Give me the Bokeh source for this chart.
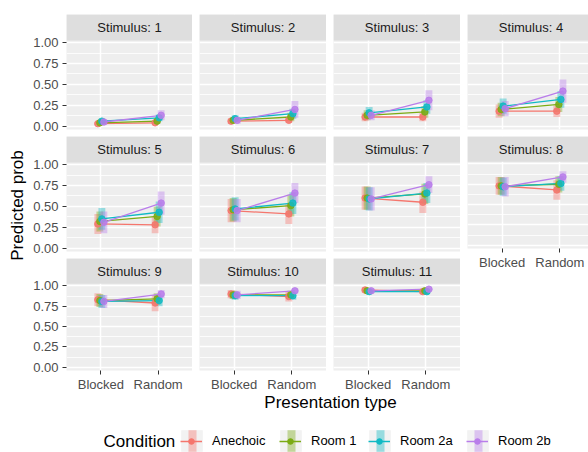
from math import pi
from bokeh.plotting import figure
from bokeh.models import (ColumnDataSource, FixedTicker, LinearAxis, Range1d,
                          BoxAnnotation, Label, Legend, LegendItem)
from bokeh.layouts import row, column
from bokeh.embed import file_html
from bokeh.resources import INLINE
from bokeh.core.properties import value

# ---------------- data ----------------
stimuli = [1, 2, 3, 4, 5, 6, 7, 8, 9, 10, 11]
presentation = ["Blocked", "Random"]
conditions = ["Anechoic", "Room 1", "Room 2a", "Room 2b"]
colors = ["#F5766D", "#7BAB14", "#10BAC4", "#B97DEA"]
y_ticks = [0.0, 0.25, 0.5, 0.75, 1.0]
y_tick_labels = ["0.00", "0.25", "0.50", "0.75", "1.00"]
y_minor = [0.125, 0.375, 0.625, 0.875]

anechoic_blocked = [0.03, 0.06, 0.11, 0.18, 0.29, 0.45, 0.60, 0.73, 0.83, 0.90, 0.95]
anechoic_random = [0.04, 0.07, 0.11, 0.18, 0.28, 0.41, 0.55, 0.68, 0.79, 0.87, 0.93]
room1_blocked = [0.04, 0.07, 0.13, 0.20, 0.32, 0.46, 0.60, 0.73, 0.82, 0.89, 0.94]
room1_random = [0.06, 0.11, 0.17, 0.26, 0.38, 0.51, 0.65, 0.75, 0.84, 0.89, 0.94]
room2a_blocked = [0.06, 0.09, 0.16, 0.24, 0.35, 0.47, 0.59, 0.72, 0.81, 0.88, 0.93]
room2a_random = [0.10, 0.15, 0.23, 0.32, 0.43, 0.54, 0.66, 0.76, 0.82, 0.88, 0.93]
room2b_blocked = [0.05, 0.07, 0.13, 0.21, 0.31, 0.45, 0.59, 0.72, 0.81, 0.89, 0.94]
room2b_random = [0.13, 0.20, 0.31, 0.42, 0.54, 0.66, 0.76, 0.84, 0.90, 0.94, 0.96]

# half-widths of the interval bars
anechoic_blocked_ci = [0.02, 0.03, 0.05, 0.08, 0.12, 0.14, 0.14, 0.11, 0.08, 0.05, 0.03]
anechoic_random_ci = [0.02, 0.03, 0.05, 0.07, 0.10, 0.12, 0.13, 0.12, 0.10, 0.06, 0.03]
room1_blocked_ci = [0.02, 0.03, 0.06, 0.08, 0.12, 0.14, 0.14, 0.11, 0.08, 0.05, 0.03]
room1_random_ci = [0.03, 0.05, 0.07, 0.09, 0.12, 0.13, 0.12, 0.10, 0.07, 0.05, 0.03]
room2a_blocked_ci = [0.03, 0.04, 0.07, 0.09, 0.13, 0.14, 0.14, 0.11, 0.08, 0.05, 0.03]
room2a_random_ci = [0.04, 0.06, 0.08, 0.10, 0.13, 0.13, 0.12, 0.09, 0.07, 0.05, 0.03]
room2b_blocked_ci = [0.03, 0.04, 0.06, 0.09, 0.13, 0.14, 0.14, 0.12, 0.08, 0.05, 0.03]
room2b_random_ci = [0.06, 0.10, 0.12, 0.14, 0.14, 0.12, 0.10, 0.07, 0.05, 0.03, 0.02]

means = {
    "Anechoic": (anechoic_blocked, anechoic_random),
    "Room 1": (room1_blocked, room1_random),
    "Room 2a": (room2a_blocked, room2a_random),
    "Room 2b": (room2b_blocked, room2b_random),
}
cis = {
    "Anechoic": (anechoic_blocked_ci, anechoic_random_ci),
    "Room 1": (room1_blocked_ci, room1_random_ci),
    "Room 2a": (room2a_blocked_ci, room2a_random_ci),
    "Room 2b": (room2b_blocked_ci, room2b_random_ci),
}

# ---------------- styling / layout constants ----------------
FONT = "Liberation Sans"
PANEL_BG = "#EEEEEE"
STRIP_BG = "#DEDEDE"
FRAME_W = 127
PANEL_H = 89
STRIP_H = 26
FRAME_H = STRIP_H + PANEL_H
GAP = 7
AXIS_H = 21
Y_LO, Y_HI = -0.04, 1.026
units_per_px = (Y_HI - Y_LO) / PANEL_H
Y_TOP = Y_HI + STRIP_H * units_per_px
STRIP_MID = Y_HI + STRIP_H * units_per_px / 2
X_LO, X_HI = 0.4, 2.6
px_per_x = FRAME_W / (X_HI - X_LO)
DODGE = 0.035
BAR_W = 0.12
BAR_ALPHA = 0.4

xticks = [i + 1 for i in range(len(presentation))]
x_overrides = {t: lab for t, lab in zip(xticks, presentation)}
y_overrides = {t: lab for t, lab in zip(y_ticks, y_tick_labels)}


def style_axis(ax):
    ax.axis_line_color = None
    ax.major_tick_out = 4
    ax.major_tick_in = 0
    ax.minor_tick_out = 0
    ax.minor_tick_in = 0
    ax.major_tick_line_color = "#333333"
    ax.major_tick_line_width = 1
    ax.major_label_text_color = "#4D4D4D"
    ax.major_label_text_font = FONT
    ax.major_label_text_font_size = "13px"


def make_panel(k, col, rw, has_x):
    has_y = col == 0
    fw = FRAME_W if col < 3 else 121
    x_end = X_HI if col < 3 else X_LO + fw / px_per_x
    left = 35 if has_y else 7
    top = 14 if rw == 0 else 0
    bottom = AXIS_H if has_x else GAP
    p = figure(width=left + fw, height=top + FRAME_H + bottom,
               x_range=Range1d(X_LO, x_end), y_range=Range1d(Y_LO, Y_TOP),
               x_axis_location=None, y_axis_location=None,
               toolbar_location=None, output_backend="svg",
               min_border_left=left, min_border_right=0,
               min_border_top=top, min_border_bottom=bottom,
               background_fill_color=PANEL_BG, border_fill_color="white",
               outline_line_color=None)
    p.xgrid.ticker = FixedTicker(ticks=xticks)
    p.ygrid.ticker = FixedTicker(ticks=y_ticks, minor_ticks=y_minor)
    p.xgrid.grid_line_color = "white"
    p.ygrid.grid_line_color = "white"
    p.xgrid.grid_line_width = 1.5
    p.ygrid.grid_line_width = 1.5
    p.ygrid.minor_grid_line_color = "white"
    p.ygrid.minor_grid_line_width = 0.8

    sources = []
    for i, cond in enumerate(conditions):
        off = (i - (len(conditions) - 1) / 2) * DODGE
        m = [means[cond][j][k] for j in range(2)]
        h = [cis[cond][j][k] for j in range(2)]
        src = ColumnDataSource(dict(
            x=[xticks[j] + off for j in range(2)],
            y=m,
            lo=[m[j] - h[j] for j in range(2)],
            hi=[m[j] + h[j] for j in range(2)],
        ))
        sources.append(src)
        p.vbar(x="x", bottom="lo", top="hi", width=BAR_W, source=src,
               fill_color=colors[i], fill_alpha=BAR_ALPHA, line_color=None)
    for i, src in enumerate(sources):
        p.line(x="x", y="y", source=src, line_color=colors[i], line_width=1.3)
    for i, src in enumerate(sources):
        p.scatter(x="x", y="y", source=src, size=6.5, marker="circle",
                  fill_color=colors[i], line_color=colors[i], fill_alpha=0.85, line_alpha=0.85)

    # facet strip
    p.add_layout(BoxAnnotation(bottom=Y_HI, fill_color=STRIP_BG, fill_alpha=1.0,
                               line_color=None))
    p.add_layout(Label(x=(X_LO + X_HI) / 2, y=STRIP_MID, text=f"Stimulus: {stimuli[k]}",
                       text_align="center", text_baseline="middle",
                       text_font=FONT, text_font_size="13px", text_color="#1A1A1A"))

    if has_y:
        ay = LinearAxis(ticker=FixedTicker(ticks=y_ticks), major_label_overrides=y_overrides)
        style_axis(ay)
        ay.major_label_standoff = 4
        p.add_layout(ay, "left")
    if has_x:
        ax = LinearAxis(ticker=FixedTicker(ticks=xticks), major_label_overrides=x_overrides)
        style_axis(ax)
        ax.major_label_standoff = 2
        p.add_layout(ax, "below")
    return p


panels = {}
for k in range(len(stimuli)):
    rw, col = divmod(k, 4)
    has_x = (rw == 2) or (k == 7)
    panels[k] = make_panel(k, col, rw, has_x)

cols = []
for c in range(4):
    cols.append(column(*[panels[k] for k in range(len(stimuli)) if k % 4 == c]))

grid_h = (14 + FRAME_H + GAP) + (FRAME_H + GAP) + (FRAME_H + AXIS_H)

# y-axis title
ylab = figure(width=30, height=grid_h, x_range=Range1d(0, 30), y_range=Range1d(0, grid_h),
              x_axis_location=None, y_axis_location=None, toolbar_location=None,
              output_backend="svg", min_border=0, outline_line_color=None)
ylab.grid.visible = False
ylab.add_layout(Label(x=17, y=grid_h - 205, text="Predicted prob", angle=pi / 2,
                      text_align="center", text_baseline="middle",
                      text_font=FONT, text_font_size="17px", text_color="black"))

# bottom: x-axis title and legend
bot_h = 452 - grid_h
KEY_CY = 11  # legend row centre, px above the bottom edge
bot = figure(width=588, height=bot_h, x_range=Range1d(0, 588), y_range=Range1d(0, bot_h),
             x_axis_location=None, y_axis_location=None, toolbar_location=None,
             output_backend="svg", min_border=0, outline_line_color=None)
bot.grid.visible = False
bot.add_layout(Label(x=330, y=bot_h - 8, text="Presentation type",
                     text_align="center", text_baseline="middle",
                     text_font=FONT, text_font_size="17px", text_color="black"))
bot.add_layout(Label(x=103, y=KEY_CY, text="Condition", text_align="left", text_baseline="middle",
                     text_font=FONT, text_font_size="17px", text_color="black"))

# legend keys: interval bar, line, point (one small legend per layer and condition)
KEY_LEFT = [180, 279, 368, 466]
KEY = 22
nan = float("nan")
common = dict(orientation="horizontal", padding=0, margin=0, spacing=0,
              border_line_color=None, background_fill_alpha=0,
              label_text_font=FONT, label_text_font_size="13px", label_text_color="black")
legends = []
for i, cond in enumerate(conditions):
    bg = bot.rect(x=[nan], y=[nan], width=1, height=1, fill_color="#F2F2F2", line_color=None)
    r_bar = bot.vbar(x=[nan], top=[nan], bottom=[nan], width=1, fill_color=colors[i],
                     fill_alpha=BAR_ALPHA, line_color=None)
    r_line = bot.line(x=[nan], y=[nan], line_color=colors[i], line_width=1.5)
    r_pt = bot.scatter(x=[nan], y=[nan], size=6, marker="circle", fill_color=colors[i],
                       line_color=colors[i])
    gk = int(KEY / 0.8)
    legends.append(Legend(items=[LegendItem(label=value(""), renderers=[bg])],
                          location=(KEY_LEFT[i] - (gk - KEY) // 2, KEY_CY - gk // 2),
                          glyph_width=gk, glyph_height=gk, label_height=gk,
                          label_standoff=0, label_width=0, **common))
    gb, hb = 10, int(KEY / 0.8)
    legends.append(Legend(items=[LegendItem(label=value(""), renderers=[r_bar])],
                          location=(KEY_LEFT[i] + (KEY - gb) // 2 + 1, KEY_CY - hb // 2),
                          glyph_width=gb, glyph_height=hb, label_height=hb,
                          label_standoff=0, label_width=0, **common))
    legends.append(Legend(items=[LegendItem(label=value(""), renderers=[r_line])],
                          location=(KEY_LEFT[i], KEY_CY - KEY // 2),
                          glyph_width=KEY, glyph_height=KEY, label_height=KEY,
                          label_standoff=0, label_width=0, **common))
    gp = 14
    legends.append(Legend(items=[LegendItem(label=cond, renderers=[r_pt])],
                          location=(KEY_LEFT[i] + (KEY - gp) // 2, KEY_CY - gp // 2),
                          glyph_width=gp, glyph_height=gp, label_height=gp,
                          label_standoff=10 + (KEY - gp) // 2, **common))
for lg in legends:
    bot.add_layout(lg, "center")

layout = column(row(ylab, *cols), bot)

with open("out.html", "w") as f:
    f.write(file_html(layout, INLINE))
